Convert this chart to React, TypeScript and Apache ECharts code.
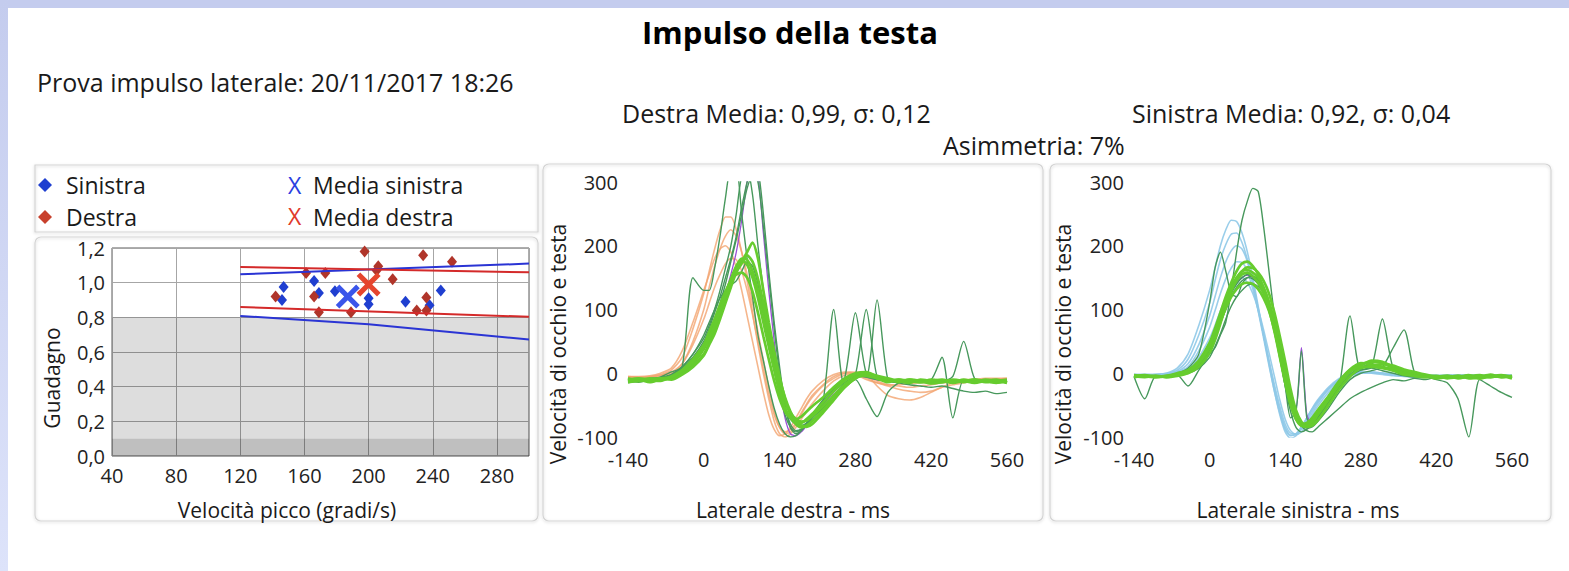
import React, { useEffect, useRef } from 'react';
import * as echarts from 'echarts';

const FONT = '"Open Sans", "Noto Sans", sans-serif';

// ---------- Scatter panel data ----------
const SINISTRA_POINTS = [[147, 0.975], [146, 0.9], [166, 1.01], [169, 0.94], [179, 0.95], [200, 0.91], [200, 0.875], [223, 0.89], [238, 0.87], [245, 0.955]];
const DESTRA_POINTS = [[142, 0.92], [161, 1.056], [166, 0.92], [169, 0.83], [173, 1.056], [189, 0.83], [197.5, 1.18], [206, 1.094], [205, 1.07], [215, 1.02], [230, 0.84], [234, 1.158], [236, 0.914], [236, 0.84], [252, 1.12]];
const MEDIA_SINISTRA = [[187, 0.92]];
const MEDIA_DESTRA = [[200, 0.99]];
const RED_UPPER = [[120, 1.09], [300, 1.06]];
const RED_LOWER = [[120, 0.86], [300, 0.803]];
const BLUE_UPPER = [[120, 1.048], [300, 1.11]];
const BLUE_LOWER = [[120, 0.808], [200, 0.76], [300, 0.672]];

// ---------- Trace panels data ----------
const TIME_MS = [-140, -120, -100, -80, -60, -40, -20, 0, 10, 20, 30, 40, 50, 60, 70, 80, 90, 100, 110, 120, 130, 140, 150, 160, 170, 180, 190, 200, 220, 240, 260, 280, 300, 320, 340, 360, 380, 400, 420, 440, 460, 480, 500, 520, 540, 560];

// Destra: head (orange)
const DESTRA_HEAD_1 = [-5, -6, -5, -2, 5, 25, 70, 125, 160, 195, 225, 245, 245, 225, 190, 145, 95, 45, 0, -40, -75, -95, -100, -95, -85, -72, -60, -48, -28, -12, -3, 0, -5, -12, -18, -20, -22, -20, -18, -15, -14, -12, -12, -10, -10, -10];
const DESTRA_HEAD_2 = [-8, -8, -6, -4, 0, 15, 50, 100, 135, 168, 195, 215, 225, 215, 190, 155, 110, 65, 20, -22, -60, -85, -95, -92, -80, -65, -50, -38, -20, -8, 0, 2, -2, -20, -35, -40, -42, -38, -30, -22, -18, -15, -12, -12, -10, -10];
const DESTRA_HEAD_3 = [-5, -5, -4, 0, 8, 35, 80, 130, 155, 180, 195, 200, 190, 165, 130, 90, 50, 10, -30, -65, -88, -98, -95, -85, -70, -55, -40, -28, -12, -2, 2, 0, -8, -15, -20, -25, -28, -30, -28, -22, -15, -12, -10, -8, -8, -8];
const DESTRA_HEAD_4 = [-6, -7, -6, -3, 2, 15, 45, 85, 110, 135, 155, 172, 180, 178, 160, 130, 92, 50, 8, -32, -65, -85, -92, -88, -78, -62, -48, -35, -18, -5, 0, -2, -10, -15, -18, -18, -16, -15, -14, -12, -12, -10, -10, -10, -9, -8];
// Destra: eye (bright green)
const DESTRA_EYE_1 = [-12, -10, -14, -10, -8, 0, 15, 38, 58, 80, 100, 125, 148, 168, 180, 178, 160, 130, 95, 55, 18, -20, -45, -62, -72, -76, -74, -68, -52, -35, -18, -6, -4, -8, -12, -10, -14, -12, -15, -12, -14, -10, -13, -12, -15, -12];
const DESTRA_EYE_2 = [-8, -12, -10, -8, -6, 2, 12, 30, 48, 70, 92, 115, 140, 160, 175, 190, 205, 180, 130, 80, 35, -5, -40, -65, -80, -85, -82, -75, -58, -40, -22, -8, -2, -6, -10, -14, -10, -12, -16, -14, -10, -12, -15, -12, -10, -14];
const DESTRA_EYE_3 = [-10, -8, -10, -12, -5, 5, 22, 45, 65, 85, 108, 128, 145, 155, 158, 150, 128, 95, 58, 22, -12, -40, -60, -70, -72, -68, -60, -52, -38, -22, -8, 0, 2, -5, -10, -12, -10, -14, -10, -12, -15, -12, -10, -14, -12, -10];
const DESTRA_EYE_4 = [-14, -12, -10, -8, -10, -2, 10, 28, 45, 62, 85, 110, 135, 158, 172, 185, 175, 148, 110, 70, 30, -8, -38, -60, -75, -82, -84, -80, -62, -42, -22, -8, 0, -4, -8, -12, -15, -10, -12, -14, -12, -14, -10, -12, -14, -12];
const DESTRA_EYE_5 = [-10, -12, -8, -10, -6, 4, 18, 40, 55, 75, 98, 120, 140, 162, 178, 170, 150, 118, 80, 42, 5, -30, -55, -70, -78, -78, -72, -64, -46, -28, -12, -2, 0, -8, -14, -10, -12, -14, -12, -10, -14, -12, -14, -10, -12, -15];
// Destra: eye (dark green, with saccades)
const DESTRA_SAC_1 = [-15, -12, -10, -6, 2, 10, 150, 130, 130, 165, 215, 275, 320, 320, 250, 180, 120, 60, 20, -20, -55, -80, -95, -100, -98, -90, -80, -68, -48, -28, -10, -2, -6, -10, -12, -10, -14, -12, -10, 25, -70, -10, -12, -14, -12, -10];
const DESTRA_SAC_2 = [-10, -8, -12, -10, -4, 8, 25, 50, 70, 95, 120, 150, 180, 215, 260, 300, 330, 320, 250, 160, 80, 10, -50, -85, -95, -90, -80, -70, -45, 100, -20, -10, -40, -68, -30, -15, -12, -14, -10, -12, -14, -10, -12, -14, -12, -10];
const DESTRA_SAC_3 = [-12, -14, -10, -8, -2, 10, 30, 55, 75, 100, 130, 165, 200, 250, 310, 320, 280, 200, 130, 70, 15, -30, -65, -85, -92, -88, -80, -68, -45, -25, -8, 95, 0, -10, -12, -15, -12, -10, -14, -12, -10, -12, -14, -12, -10, -12];
const DESTRA_SAC_4 = [-10, -10, -12, -8, -5, 5, 20, 42, 60, 85, 110, 140, 175, 210, 250, 290, 310, 300, 230, 150, 70, 0, -50, -80, -90, -88, -78, -65, -42, -22, -8, -2, -5, 115, -10, -15, -18, -20, -22, -20, -24, -28, -30, -28, -32, -30];
const DESTRA_SAC_5 = [-8, -10, -8, -6, -2, 10, 30, 60, 80, 100, 118, 130, 138, 145, 160, 175, 168, 140, 100, 55, 15, -25, -55, -72, -80, -82, -78, -70, -55, -35, -15, -2, 100, -5, -10, -12, -14, -12, -10, -12, -5, 50, -8, -12, -10, -14];
const DESTRA_PURPLE = [-10, -10, -10, -8, -4, 5, 20, 40, 58, 78, 100, 125, 155, 190, 240, 300, 330, 310, 220, 130, 50, -20, -70, -95, -98, -92, -82, -70, -50, -30, -12, -4, -6, -10, -12, -14, -12, -10, -12, -14, -12, -10, -12, -14, -12, -10];

// Sinistra: head (light blue)
const SINISTRA_HEAD_1 = [-2, -2, -2, 0, 8, 30, 75, 130, 165, 200, 225, 240, 238, 220, 190, 150, 105, 60, 15, -28, -65, -92, -102, -98, -85, -70, -55, -42, -22, -8, 0, 2, 0, -2, -4, -5, -6, -6, -5, -5, -5, -4, -4, -4, -4, -4];
const SINISTRA_HEAD_2 = [-3, -3, -2, 0, 5, 22, 60, 110, 145, 178, 202, 218, 220, 205, 178, 140, 98, 55, 12, -28, -62, -88, -98, -95, -84, -70, -56, -44, -24, -10, -2, 2, 2, 0, -3, -4, -4, -5, -4, -4, -4, -3, -4, -4, -3, -4];
const SINISTRA_HEAD_3 = [-2, -3, -2, -1, 3, 15, 45, 90, 120, 150, 175, 192, 200, 195, 175, 142, 102, 60, 18, -22, -58, -85, -97, -96, -86, -72, -58, -45, -25, -10, -2, 1, 2, 0, -2, -3, -4, -4, -4, -3, -3, -4, -4, -3, -3, -4];
const SINISTRA_HEAD_4 = [-2, -2, -3, -1, 2, 10, 35, 72, 98, 125, 148, 165, 175, 174, 160, 132, 98, 60, 20, -18, -52, -80, -94, -95, -88, -75, -62, -48, -26, -12, -3, 0, 1, 0, -2, -3, -3, -4, -4, -3, -4, -3, -3, -4, -3, -3];
const SINISTRA_HEAD_5 = [-3, -2, -2, -1, 0, 6, 25, 55, 75, 98, 118, 136, 148, 150, 142, 125, 100, 68, 32, -5, -42, -72, -90, -96, -92, -80, -66, -52, -30, -14, -4, 0, 1, 0, -2, -3, -4, -3, -3, -4, -3, -3, -4, -3, -3, -4];
// Sinistra: eye (bright green)
const SINISTRA_EYE_1 = [-5, -6, -4, -6, -3, 2, 15, 40, 62, 88, 112, 135, 150, 160, 162, 158, 150, 135, 112, 80, 40, 0, -40, -65, -78, -80, -72, -62, -40, -15, 5, 14, 18, 16, 8, 2, -2, -5, -6, -4, -8, -5, -3, -6, -4, -8];
const SINISTRA_EYE_2 = [-4, -3, -5, -4, 0, 5, 20, 48, 70, 95, 120, 142, 160, 172, 175, 168, 155, 132, 105, 70, 28, -12, -48, -72, -82, -84, -78, -66, -42, -18, 2, 12, 20, 18, 10, 4, 0, -4, -8, -6, -4, -8, -6, -2, -6, -5];
const SINISTRA_EYE_3 = [-6, -4, -6, -5, -2, 4, 18, 42, 60, 82, 102, 120, 132, 140, 142, 140, 132, 118, 98, 68, 32, -5, -42, -68, -80, -78, -70, -58, -36, -12, 6, 16, 14, 10, 6, 0, -4, -6, -4, -8, -6, -3, -8, -5, -3, -6];
const SINISTRA_EYE_4 = [-3, -5, -4, -6, -4, 0, 10, 32, 52, 78, 105, 128, 148, 160, 166, 165, 158, 145, 125, 95, 58, 18, -25, -58, -76, -84, -82, -74, -50, -25, -5, 8, 12, 14, 12, 6, 2, -2, -5, -6, -4, -6, -8, -4, -6, -4];
const SINISTRA_EYE_5 = [-4, -5, -6, -4, -2, 3, 16, 44, 66, 90, 112, 130, 145, 155, 158, 152, 142, 125, 100, 66, 26, -15, -50, -72, -82, -82, -74, -62, -38, -14, 4, 10, 10, 8, 4, -2, -4, -6, -5, -4, -6, -4, -5, -6, -4, -6];
// Sinistra: eye (dark green, with saccades)
const SINISTRA_SAC_1 = [-5, -40, -5, -5, -3, -20, 5, 30, 40, 60, 80, 130, 190, 240, 270, 290, 285, 230, 160, 90, 30, -20, -60, -85, -92, -88, -80, -68, -45, -22, -5, 5, 8, 4, 0, -4, -6, -5, -6, -8, -6, -5, -6, -5, -6, -6];
const SINISTRA_SAC_2 = [-5, -4, -6, -4, 0, 8, 30, 110, 165, 190, 160, 125, 120, 140, 150, 152, 148, 130, 105, 70, 25, -20, -70, -60, 35, -70, -80, -70, -48, -22, -2, 10, 12, 10, 4, 0, -4, -6, -4, -6, -5, -4, -6, -4, -5, -6];
const SINISTRA_SAC_3 = [-6, -5, -4, -5, -2, 2, 12, 35, 55, 78, 100, 120, 135, 145, 150, 148, 140, 128, 108, 78, 40, 0, -40, -68, -80, -84, -80, -70, -48, -20, 90, 5, 10, 85, 8, 2, -4, -6, -5, -6, -8, -6, -4, -6, -5, -6];
const SINISTRA_SAC_4 = [-4, -6, -5, -4, -2, 4, 14, 38, 58, 80, 104, 125, 140, 150, 155, 152, 146, 132, 110, 80, 42, 2, -38, -66, -80, -86, -84, -76, -55, -30, -10, 0, 4, 10, 40, 68, 0, -5, -10, -15, -40, -100, -10, -20, -30, -38];
const SINISTRA_SAC_5 = [-6, -5, -6, -4, -3, 0, 8, 25, 42, 62, 85, 105, 120, 130, 138, 140, 136, 126, 110, 85, 52, 12, -30, -62, -82, -90, -92, -85, -70, -55, -40, -30, -22, -15, -10, -12, -8, -10, -6, -8, -5, -6, -4, -6, -5, -4];
const SINISTRA_PURPLE = [-5, -5, -5, -4, -2, 3, 15, 40, 60, 84, 108, 128, 142, 150, 154, 150, 142, 125, 100, 68, 28, -12, -50, -55, 40, -65, -78, -68, -45, -18, 2, 10, 12, 10, 5, 0, -4, -5, -4, -6, -5, -4, -5, -6, -4, -5];

const DESTRA_HEADS = [DESTRA_HEAD_1, DESTRA_HEAD_2, DESTRA_HEAD_3, DESTRA_HEAD_4];
const DESTRA_EYES = [DESTRA_EYE_1, DESTRA_EYE_2, DESTRA_EYE_3, DESTRA_EYE_4, DESTRA_EYE_5];
const DESTRA_SACS = [DESTRA_SAC_1, DESTRA_SAC_2, DESTRA_SAC_3, DESTRA_SAC_4, DESTRA_SAC_5];
const SINISTRA_HEADS = [SINISTRA_HEAD_1, SINISTRA_HEAD_2, SINISTRA_HEAD_3, SINISTRA_HEAD_4, SINISTRA_HEAD_5];
const SINISTRA_EYES = [SINISTRA_EYE_1, SINISTRA_EYE_2, SINISTRA_EYE_3, SINISTRA_EYE_4, SINISTRA_EYE_5];
const SINISTRA_SACS = [SINISTRA_SAC_1, SINISTRA_SAC_2, SINISTRA_SAC_3, SINISTRA_SAC_4, SINISTRA_SAC_5];

const X_PATH = 'path://M0,3L3,0L10,7L17,0L20,3L13,10L20,17L17,20L10,13L3,20L0,17L7,10Z';

function trace(vals: number[], color: string, width: number, axis: number, opacity = 1) {
  return {
    type: 'line',
    xAxisIndex: axis,
    yAxisIndex: axis,
    data: TIME_MS.map((t, i) => [t, vals[i]]),
    symbol: 'none',
    showSymbol: false,
    smooth: 0.25,
    silent: true,
    lineStyle: { color, width, opacity },
  };
}

function text(t: string, x: number, y: number, size: number, opts: any = {}) {
  return {
    type: 'text',
    x,
    y,
    rotation: opts.rotation || 0,
    style: {
      text: t,
      x: 0,
      y: 0,
      fill: opts.fill || '#1a1a1a',
      font: `${opts.bold ? 'bold ' : ''}${size}px ${FONT}`,
      textAlign: opts.align || 'left',
      textVerticalAlign: 'middle',
    },
  };
}

function box(x: number, y: number, w: number, h: number, r: number) {
  return {
    type: 'rect',
    shape: { x, y, width: w, height: h, r },
    style: { fill: 'transparent', stroke: '#d4d4d4', lineWidth: 1.2, shadowBlur: 3, shadowColor: 'rgba(0,0,0,0.18)', shadowOffsetY: 1 },
  };
}

const tickLabel = { fontSize: 20, color: '#222', fontFamily: FONT };

export default function App() {
  const ref = useRef<HTMLDivElement>(null);
  useEffect(() => {
    if (!ref.current) return;
    const chart = echarts.init(ref.current, undefined, { renderer: 'svg' });
    const series: any[] = [];
    // Scatter panel
    series.push({
      type: 'line', xAxisIndex: 0, yAxisIndex: 0, data: BLUE_LOWER, symbol: 'none', silent: true,
      lineStyle: { color: '#2a34d4', width: 2 },
      markArea: {
        silent: true,
        itemStyle: { color: 'rgba(0,0,0,0.135)' },
        data: [[{ yAxis: 0 }, { yAxis: 0.8 }], [{ yAxis: 0 }, { yAxis: 0.1 }]],
      },
    });
    series.push({ type: 'line', xAxisIndex: 0, yAxisIndex: 0, data: BLUE_UPPER, symbol: 'none', silent: true, lineStyle: { color: '#2a34d4', width: 2 } });
    series.push({ type: 'line', xAxisIndex: 0, yAxisIndex: 0, data: RED_UPPER, symbol: 'none', silent: true, lineStyle: { color: '#d42a2a', width: 2 } });
    series.push({ type: 'line', xAxisIndex: 0, yAxisIndex: 0, data: RED_LOWER, symbol: 'none', silent: true, lineStyle: { color: '#d42a2a', width: 2 } });
    series.push({ type: 'scatter', name: 'Sinistra', xAxisIndex: 0, yAxisIndex: 0, data: SINISTRA_POINTS, symbol: 'diamond', symbolSize: [10, 12], itemStyle: { color: '#1f3fd0', opacity: 1 } });
    series.push({ type: 'scatter', name: 'Destra', xAxisIndex: 0, yAxisIndex: 0, data: DESTRA_POINTS, symbol: 'diamond', symbolSize: [10, 12], itemStyle: { color: '#b0352a', opacity: 1 } });
    series.push({ type: 'scatter', name: 'Media sinistra', xAxisIndex: 0, yAxisIndex: 0, data: MEDIA_SINISTRA, symbol: X_PATH, symbolSize: 24, itemStyle: { color: '#3a55ea', opacity: 1 } });
    series.push({ type: 'scatter', name: 'Media destra', xAxisIndex: 0, yAxisIndex: 0, data: MEDIA_DESTRA, symbol: X_PATH, symbolSize: 24, itemStyle: { color: '#e5452e', opacity: 1 } });
    // Destra traces
    DESTRA_HEADS.forEach((v) => series.push(trace(v, '#f3a46f', 1.6, 1, 0.8)));
    series.push(trace(DESTRA_PURPLE, '#9b4fd6', 1.3, 1));
    DESTRA_SACS.forEach((v) => series.push(trace(v, '#47985c', 1.4, 1)));
    DESTRA_EYES.forEach((v) => series.push(trace(v, '#66cc2e', 2.7, 1)));
    // Sinistra traces
    SINISTRA_HEADS.forEach((v) => series.push(trace(v, '#8fc9e8', 1.6, 2, 0.9)));
    series.push(trace(SINISTRA_PURPLE, '#9b4fd6', 1.3, 2));
    SINISTRA_SACS.forEach((v) => series.push(trace(v, '#47985c', 1.4, 2)));
    SINISTRA_EYES.forEach((v) => series.push(trace(v, '#66cc2e', 2.7, 2)));

    const traceX = (gi: number) => ({
      gridIndex: gi, type: 'value', min: -140, max: 560, interval: 140,
      axisLine: { show: false }, axisTick: { show: false }, splitLine: { show: false },
      axisLabel: { ...tickLabel, margin: 12 },
    });
    const traceY = (gi: number) => ({
      gridIndex: gi, type: 'value', min: -100, max: 300, interval: 100,
      axisLine: { show: false }, axisTick: { show: false }, splitLine: { show: false },
      axisLabel: { ...tickLabel, margin: 10 },
    });

    const leftBand = new echarts.graphic.LinearGradient(0, 0, 0, 1, [
      { offset: 0, color: '#c4ccee' },
      { offset: 1, color: '#dde3fa' },
    ]);

    chart.setOption({
      animation: false,
      backgroundColor: '#ffffff',
      grid: [
        { left: 112, top: 248, width: 417, height: 208, show: true, borderColor: '#5a5a5a', borderWidth: 1, backgroundColor: 'transparent' },
        { left: 628, top: 182, width: 379, height: 255 },
        { left: 1134, top: 182, width: 378, height: 255 },
      ],
      xAxis: [
        {
          gridIndex: 0, type: 'value', min: 40, max: 300, interval: 40,
          axisLine: { show: false }, axisTick: { show: false },
          axisLabel: { ...tickLabel, margin: 9, showMaxLabel: false },
          splitLine: { show: true, lineStyle: { color: '#a6a6a6', width: 1 } },
        },
        traceX(1),
        traceX(2),
      ],
      yAxis: [
        {
          gridIndex: 0, type: 'value', min: 0, max: 1.2, interval: 0.2,
          axisLine: { show: false }, axisTick: { show: false },
          axisLabel: { ...tickLabel, margin: 7, formatter: (v: number) => v.toFixed(1).replace('.', ',') },
          splitLine: { show: true, lineStyle: { color: '#a6a6a6', width: 1 } },
        },
        traceY(1),
        traceY(2),
      ],
      series,
      graphic: [
        { type: 'rect', shape: { x: 0, y: 0, width: 1569, height: 8 }, style: { fill: '#c4ccee' } },
        { type: 'rect', shape: { x: 0, y: 0, width: 8, height: 571 }, style: { fill: leftBand } },
        box(35, 165, 503, 67, 0),
        box(35, 237, 503, 284, 6),
        box(543, 164, 500, 357, 6),
        box(1050, 164, 501, 357, 6),
        text('Impulso della testa', 790, 32, 31, { bold: true, align: 'center', fill: '#000' }),
        text('Prova impulso laterale: 20/11/2017 18:26', 37, 82, 25),
        text('Destra Media: 0,99, σ: 0,12', 622, 113, 25),
        text('Sinistra Media: 0,92, σ: 0,04', 1132, 113, 25),
        text('Asimmetria: 7%', 943, 145, 25),
        // legend
        { type: 'polygon', shape: { points: [[45, 178], [52, 185], [45, 192], [38, 185]] }, style: { fill: '#1f3fd0' } },
        { type: 'polygon', shape: { points: [[45, 210], [52, 217], [45, 224], [38, 217]] }, style: { fill: '#c8402c' } },
        text('Sinistra', 66, 185, 23),
        text('Destra', 66, 217, 23),
        text('X', 288, 185, 23, { fill: '#2a40e0' }),
        text('X', 288, 216, 23, { fill: '#e03a2a' }),
        text('Media sinistra', 313, 185, 23),
        text('Media destra', 313, 217, 23),
        // axis names
        text('Guadagno', 52, 378, 21, { rotation: Math.PI / 2, align: 'center' }),
        text('Velocità picco (gradi/s)', 287, 510, 21, { align: 'center' }),
        text('Velocità di occhio e testa', 558, 344, 21, { rotation: Math.PI / 2, align: 'center' }),
        text('Laterale destra - ms', 793, 510, 21, { align: 'center' }),
        text('Velocità di occhio e testa', 1063, 344, 21, { rotation: Math.PI / 2, align: 'center' }),
        text('Laterale sinistra - ms', 1298, 510, 21, { align: 'center' }),
      ],
    });
    return () => chart.dispose();
  }, []);
  return <div ref={ref} style={{ position: 'absolute', left: 0, top: 0, width: 1569, height: 571 }} />;
}
